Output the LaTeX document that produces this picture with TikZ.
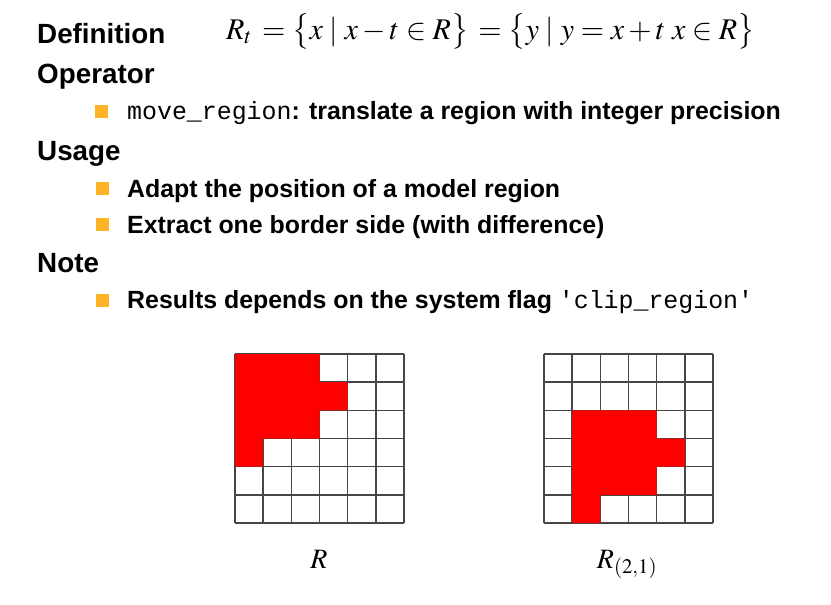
\documentclass[tikz,border=0pt]{standalone}
\usepackage{mathptmx}
\usepackage{fontspec}
\setmainfont{Liberation Sans}
\setmonofont{Liberation Mono}
\usetikzlibrary{positioning}
\definecolor{bulletorange}{RGB}{255,180,40}
\definecolor{gridgray}{RGB}{70,70,70}
\tikzset{
  heading/.style={anchor=base west, inner sep=0pt, font=\fontsize{27.8}{30}\selectfont\bfseries},
  itemtext/.style={anchor=base west, inner sep=0pt, font=\fontsize{24.9}{28}\selectfont\bfseries},
  bulletbox/.style={rectangle, fill=bulletorange, minimum size=13pt, inner sep=0pt},
  mathlabel/.style={anchor=base, inner sep=0pt, font=\fontsize{28}{30}\selectfont},
  cellline/.style={draw=gridgray, line width=1.4pt},
  hit/.style={fill=red}
}
\newcommand{\codeword}[1]{{\mdseries\ttfamily #1}}

\begin{document}
\begin{tikzpicture}[x=1pt,y=-1pt]
\useasboundingbox (0,0) rectangle (831,605);
\node[heading] (def) at (37,43) {Definition};
\node[anchor=base west, inner sep=0pt, font=\fontsize{30}{30}\selectfont] (formula) at (226,39)
  {$R_t\,=\bigl\{x\mathrel{|}x-t\in R\bigr\}\,=\bigl\{y\mathrel{|}y=x+t\;x\in R\bigr\}$};
\node[heading] (op) at (37,83) {Operator};
\node[bulletbox] (b1) at (101,111) {};
\node[itemtext] (t1) at (127,119) {\codeword{move\_region}: translate a region with integer precision};
\node[heading] (use) at (37,160) {Usage};
\node[bulletbox] (b2) at (102,188) {};
\node[itemtext] (t2) at (127,197) {Adapt the position of a model region};
\node[bulletbox] (b3) at (102,224) {};
\node[itemtext] (t3) at (127,233) {Extract one border side (with difference)};
\node[heading] (note) at (37,272) {Note};
\node[bulletbox] (b4) at (102,300) {};
\node[itemtext] (t4) at (127,308) {Results depends on the system flag \codeword{'clip\_region'}};
% region before and after the move
\foreach \ox/\dc/\dr in {235/0/0,544/1/2}{
\begin{scope}[shift={(\ox,354)},x=28.17pt,y=-28.17pt]
\foreach \k in {0,...,6}{
  \draw[cellline] (\k,0) -- (\k,6);
  \draw[cellline] (0,\k) -- (6,\k);}
\fill[hit] (0+\dc,0+\dr) -| (3+\dc,1+\dr) -| (4+\dc,2+\dr) -| (3+\dc,3+\dr)
  -| (1+\dc,4+\dr) -| cycle;
\end{scope}}
\node[mathlabel] (lblR) at (319,568) {$R$};
\node[mathlabel] (lblRs) at (627,568) {$R_{(2,1)}$};
\end{tikzpicture}
\end{document}
